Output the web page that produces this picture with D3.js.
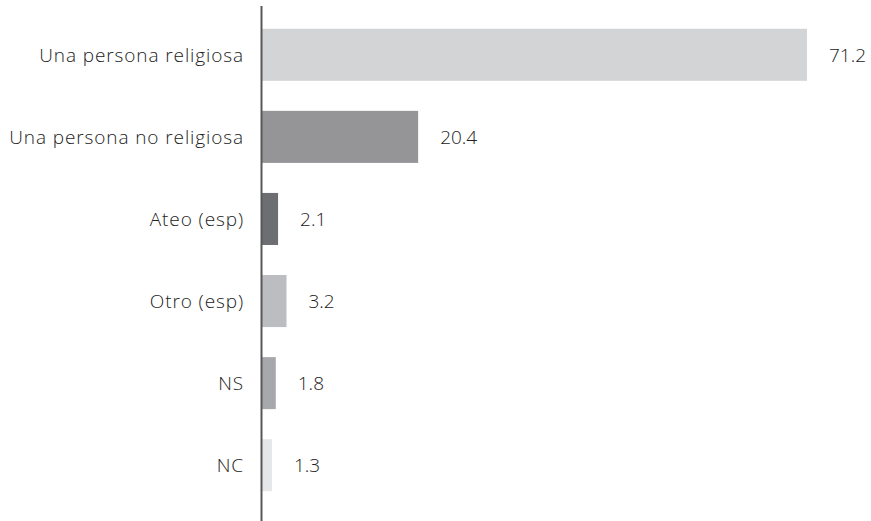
<!DOCTYPE html>
<html>
<head>
<meta charset="utf-8">
<style>
  body { margin: 0; background: #fff; }
  text { font-family: "Open Sans", "Noto Sans", sans-serif; font-weight: 300; fill: #222; }
</style>
</head>
<body>
<svg id="chart" width="871" height="521"></svg>
<script src="https://cdn.jsdelivr.net/npm/d3@7"></script>
<script>
const categories = ["Una persona religiosa", "Una persona no religiosa", "Ateo (esp)", "Otro (esp)", "NS", "NC"];
const values = [71.2, 20.4, 2.1, 3.2, 1.8, 1.3];
const colors = ["#d3d4d5", "#959597", "#6d6e71", "#bcbdc0", "#a7a8ab", "#e6e7e8"];

const svg = d3.select("#chart");
const left = 262;

const x = d3.scaleLinear().domain([0, 71.2]).range([left, 807]);
const y = d3.scaleBand()
  .domain(categories)
  .range([14, 506])
  .paddingInner(0.366)
  .paddingOuter(0.18);

const color = d3.scaleOrdinal().domain(categories).range(colors);

const rows = categories.map((c, i) => ({ cat: c, val: values[i] }));

svg.selectAll("rect.bar")
  .data(rows)
  .enter().append("rect")
  .attr("class", "bar")
  .attr("x", x(0))
  .attr("y", d => y(d.cat))
  .attr("width", d => x(d.val) - x(0))
  .attr("height", y.bandwidth())
  .attr("fill", d => color(d.cat));

// category labels
svg.selectAll("text.cat")
  .data(rows)
  .enter().append("text")
  .attr("class", "cat")
  .attr("x", left - 18)
  .attr("y", d => y(d.cat) + y.bandwidth() / 2)
  .attr("dy", "0.36em")
  .attr("text-anchor", "end")
  .style("font-size", "19px")
  .style("letter-spacing", "0.9px")
  .text(d => d.cat);

// value labels
svg.selectAll("text.val")
  .data(rows)
  .enter().append("text")
  .attr("class", "val")
  .attr("x", d => x(d.val) + 22)
  .attr("y", d => y(d.cat) + y.bandwidth() / 2)
  .attr("dy", "0.36em")
  .style("font-size", "19px")
  .text(d => d.val.toFixed(1));

// vertical axis line
svg.append("line")
  .attr("x1", left - 0.5).attr("x2", left - 0.5)
  .attr("y1", 6).attr("y2", 521)
  .attr("stroke", "#58585a")
  .attr("stroke-width", 2);
</script>
</body>
</html>
